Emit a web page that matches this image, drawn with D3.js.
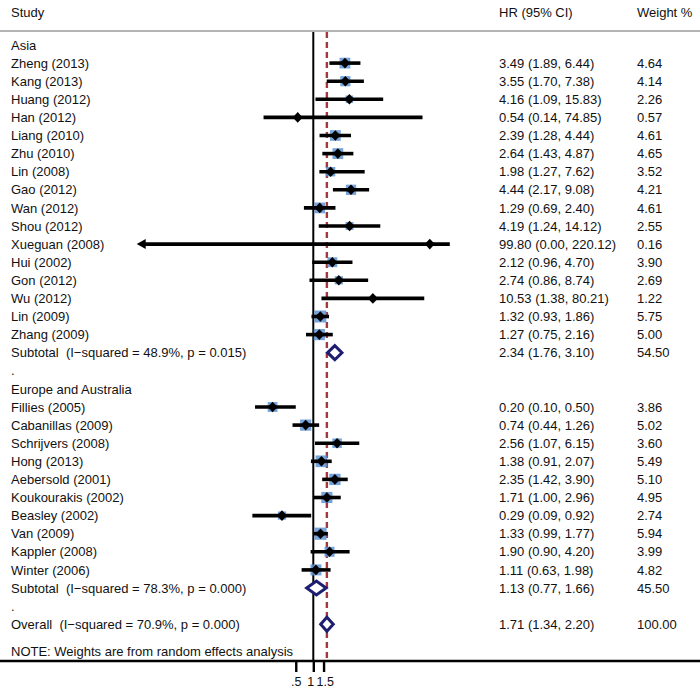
<!DOCTYPE html>
<html><head><meta charset="utf-8">
<script src="https://cdn.jsdelivr.net/npm/d3@7"></script>
<style>body{margin:0;background:#fff}svg{display:block}text{font-family:"Liberation Sans",Arial,sans-serif;font-size:13px;fill:#111;white-space:pre}</style>
</head><body><svg id="c" width="700" height="688"></svg>
<script>
// ---- data ----
const rowLabels = ["Asia","Zheng (2013)","Kang (2013)","Huang (2012)","Han (2012)","Liang (2010)","Zhu (2010)","Lin (2008)","Gao (2012)","Wan (2012)","Shou (2012)","Xueguan (2008)","Hui (2002)","Gon (2012)","Wu (2012)","Lin (2009)","Zhang (2009)","Subtotal  (I\u2212squared = 48.9%, p = 0.015)",".","Europe and Australia","Fillies (2005)","Cabanillas (2009)","Schrijvers (2008)","Hong (2013)","Aebersold (2001)","Koukourakis (2002)","Beasley (2002)","Van (2009)","Kappler (2008)","Winter (2006)","Subtotal  (I\u2212squared = 78.3%, p = 0.000)",".","Overall  (I\u2212squared = 70.9%, p = 0.000)"];
const rowType = ["head","study","study","study","study","study","study","study","study","study","study","study","study","study","study","study","study","sub","blank","head","study","study","study","study","study","study","study","study","study","study","sub","blank","sub"];
const hr    = [null,3.49,3.55,4.16,0.54,2.39,2.64,1.98,4.44,1.29,4.19,99.80,2.12,2.74,10.53,1.32,1.27,2.34,null,null,0.20,0.74,2.56,1.38,2.35,1.71,0.29,1.33,1.90,1.11,1.13,null,1.71];
const lower = [null,1.89,1.70,1.09,0.14,1.28,1.43,1.27,2.17,0.69,1.24,0.00,0.96,0.86,1.38,0.93,0.75,1.76,null,null,0.10,0.44,1.07,0.91,1.42,1.00,0.09,0.99,0.90,0.63,0.77,null,1.34];
const upper = [null,6.44,7.38,15.83,74.85,4.44,4.87,7.62,9.08,2.40,14.12,220.12,4.70,8.74,80.21,1.86,2.16,3.10,null,null,0.50,1.26,6.15,2.07,3.90,2.96,0.92,1.77,4.20,1.98,1.66,null,2.20];
const weight= [null,4.64,4.14,2.26,0.57,4.61,4.65,3.52,4.21,4.61,2.55,0.16,3.90,2.69,1.22,5.75,5.00,54.50,null,null,3.86,5.02,3.60,5.49,5.10,4.95,2.74,5.94,3.99,4.82,45.50,null,100.00];
const overallHR = 1.71;
const tickValues = [0.5, 1, 1.5];
const tickLabels = [".5", "1", "1.5"];
const axisMin = 0.001, axisMax = 220.12;

// ---- layout ----
const svg = d3.select("#c");
const x = d3.scaleLog().domain([axisMin, axisMax]).range([138.5, 449.8]);
const y = d3.scaleLinear().domain([0, 1]).range([45, 63.1]);
const fmt = d3.format(".2f");
const plotTop = 32, plotBottom = 661;

// header
svg.append("text").attr("x", 11).attr("y", 16.5).text("Study");
svg.append("text").attr("x", 499).attr("y", 16.5).text("HR (95% CI)");
svg.append("text").attr("x", 637).attr("y", 16.5).text("Weight %");
svg.append("line").attr("x1", 0).attr("x2", 700).attr("y1", 31).attr("y2", 31)
  .attr("stroke", "#b4b4b4").attr("stroke-width", 2);

// null line and overall dashed line
svg.append("line").attr("x1", x(1)).attr("x2", x(1)).attr("y1", plotTop).attr("y2", plotBottom)
  .attr("stroke", "#000").attr("stroke-width", 2);
svg.append("line").attr("x1", x(overallHR)).attr("x2", x(overallHR)).attr("y1", plotTop).attr("y2", plotBottom)
  .attr("stroke", "#a3373c").attr("stroke-width", 2.4).attr("stroke-dasharray", "6,4");

const rows = rowLabels.map((l, i) => ({l, t: rowType[i], hr: hr[i], lo: lower[i], up: upper[i], w: weight[i], i}));

// labels
svg.append("g").selectAll("text").data(rows).join("text")
  .attr("x", 11).attr("y", d => y(d.i) + 4.6).text(d => d.l);
svg.append("g").selectAll("text").data(rows.filter(d => d.hr != null)).join("text")
  .attr("x", 499).attr("y", d => y(d.i) + 4.6)
  .text(d => `${fmt(d.hr)} (${fmt(d.lo)}, ${fmt(d.up)})`);
svg.append("g").selectAll("text").data(rows.filter(d => d.w != null)).join("text")
  .attr("x", 637).attr("y", d => y(d.i) + 4.6).text(d => fmt(d.w));

const studies = rows.filter(d => d.t === "study");
const clampX = v => x(Math.max(axisMin, Math.min(axisMax, v)));

// weight boxes
svg.append("g").selectAll("rect").data(studies).join("rect")
  .attr("x", d => x(d.hr) - 2.5 * Math.sqrt(d.w)).attr("y", d => y(d.i) - 2.5 * Math.sqrt(d.w))
  .attr("width", d => 5 * Math.sqrt(d.w)).attr("height", d => 5 * Math.sqrt(d.w))
  .attr("fill", "#5d93d3").attr("opacity", 0.85);

// CI lines
svg.append("g").selectAll("line").data(studies).join("line")
  .attr("x1", d => d.lo < axisMin ? clampX(d.lo) + 6 : clampX(d.lo))
  .attr("x2", d => clampX(d.up))
  .attr("y1", d => y(d.i)).attr("y2", d => y(d.i))
  .attr("stroke", "#000").attr("stroke-width", 3.6);

// arrows for truncated CIs
svg.append("g").selectAll("path").data(studies.filter(d => d.lo < axisMin)).join("path")
  .attr("d", d => {
    const tx = x(axisMin) - 1.8, cy = y(d.i);
    return `M${tx},${cy} L${tx + 9},${cy - 5} L${tx + 9},${cy + 5} Z`;
  }).attr("fill", "#000");

// point estimates
svg.append("g").selectAll("path").data(studies).join("path")
  .attr("d", d => {
    const cx = x(d.hr), cy = y(d.i);
    return `M${cx - 5},${cy} L${cx},${cy - 5.3} L${cx + 5},${cy} L${cx},${cy + 5.3} Z`;
  }).attr("fill", "#000");

// pooled diamonds
svg.append("g").selectAll("path").data(rows.filter(d => d.t === "sub")).join("path")
  .attr("d", d => {
    const cy = y(d.i), h = 7;
    return `M${x(d.lo)},${cy} L${x(d.hr)},${cy - h} L${x(d.up)},${cy} L${x(d.hr)},${cy + h} Z`;
  }).attr("fill", "#fff").attr("stroke", "#1d1d72").attr("stroke-width", 3);

// note
svg.append("text").attr("x", 11).attr("y", y(33.5) + 4.6).text("NOTE: Weights are from random effects analysis");

// bottom axis
svg.append("line").attr("x1", 0).attr("x2", 700).attr("y1", plotBottom).attr("y2", plotBottom)
  .attr("stroke", "#000").attr("stroke-width", 2.4);
const ax = svg.append("g").attr("transform", `translate(0,${plotBottom})`)
  .call(d3.axisBottom(x).tickValues(tickValues).tickFormat((d, i) => tickLabels[i]).tickSize(11).tickPadding(5));
ax.select(".domain").remove();
ax.selectAll(".tick line").attr("stroke", "#000").attr("stroke-width", 2.4);
ax.selectAll(".tick text").style("font-family", '"Liberation Sans",Arial,sans-serif').style("font-size", "12.5px").attr("fill", "#111")
  .attr("dx", (d, i) => i === 1 ? -3.2 : (i === 2 ? 1.2 : 0));
</script></body></html>
